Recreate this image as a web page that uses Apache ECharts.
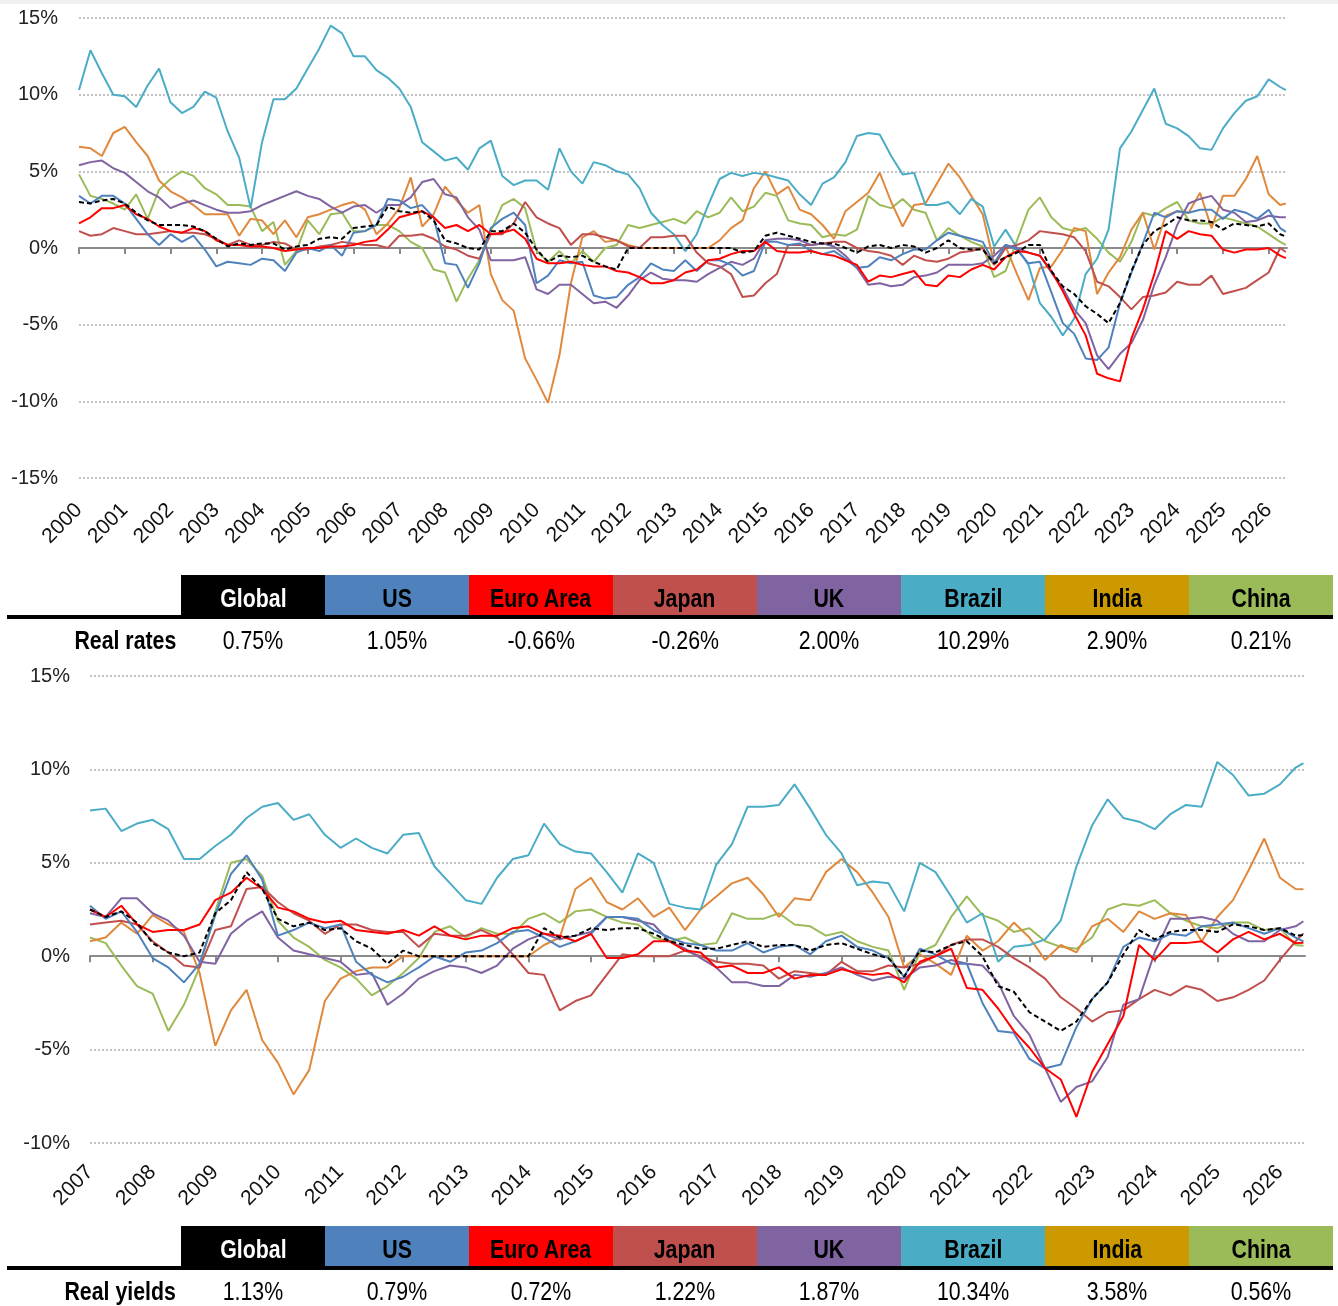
<!DOCTYPE html>
<html><head><meta charset="utf-8">
<script src="https://cdn.jsdelivr.net/npm/echarts@6/dist/echarts.min.js"></script>
<style>
html,body{margin:0;padding:0;background:#fff;}
#wrap{position:relative;width:1338px;height:1306px;overflow:hidden;background:#fff;}
#band{position:absolute;left:0;top:0;width:1338px;height:4px;background:#f0f0f0;z-index:3;}
#chart{position:absolute;left:0;top:0;width:1338px;height:1306px;}
.t{position:absolute;font-family:"Liberation Sans",Arial,sans-serif;font-size:26px;color:#000;z-index:4;white-space:nowrap;}
.t span{display:inline-block;transform:scaleX(0.82);transform-origin:50% 50%;}
.hd{text-align:center;font-weight:bold;height:40px;line-height:47px;}
.rule{position:absolute;background:#000;height:4px;z-index:4;}
.val{text-align:center;}
.rowlab{text-align:right;font-weight:bold;}
.rowlab span{transform-origin:100% 50%;}
</style>
</head><body>
<div id="wrap"><div id="band"></div><div id="chart"></div></div>
<script>
// ---------- table data ----------
const countries = ['Global','US','Euro Area','Japan','UK','Brazil','India','China'];
const rateLatest = ['0.75%','1.05%','-0.66%','-0.26%','2.00%','10.29%','2.90%','0.21%'];
const yieldLatest = ['1.13%','0.79%','0.72%','1.22%','1.87%','10.34%','3.58%','0.56%'];
const rowLabels = ['Real rates','Real yields'];

// ---------- axis ticks ----------
const rateYears = [2000,2001,2002,2003,2004,2005,2006,2007,2008,2009,2010,2011,2012,2013,2014,2015,2016,2017,2018,2019,2020,2021,2022,2023,2024,2025,2026];
const yieldYears = [2007,2008,2009,2010,2011,2012,2013,2014,2015,2016,2017,2018,2019,2020,2021,2022,2023,2024,2025,2026];
const rateTicks = [-15,-10,-5,0,5,10,15];
const yieldTicks = [-10,-5,0,5,10,15];
const lastDate = 2026.375;

// ---------- Real rates (quarterly from 2000 Q1, last = latest) ----------
const rateGlobal = [3.0,2.9,3.1,3.2,2.9,2.3,1.8,1.5,1.5,1.5,1.4,1.1,0.6,0.1,0.3,0.2,0.3,0.3,-0.1,0.1,0.2,0.6,0.7,0.6,1.3,1.4,1.5,2.7,2.4,2.3,2.4,1.8,0.5,
 0.3,0.0,-0.1,1.1,1.1,1.6,1.0,-0.1,-0.9,-0.5,-0.6,-0.5,-0.9,-1.2,-1.4,0.0,0,0,0,0,0,0,0,0,0,-0.3,-0.2,0.8,1.0,0.8,0.6,0.4,0.3,0.3,0.0,-0.3,0.1,0.2,0.0,
 0.2,0.1,-0.3,0.0,0.5,0.0,-0.1,-0.1,-1.0,-0.6,-0.3,0.2,0.2,-1.5,-2.5,-3.0,-3.8,-4.3,-4.9,-3.6,-1.5,0.2,1.1,1.5,2.0,1.8,1.8,1.7,1.2,1.6,1.5,1.4,1.6,0.9,
 0.75];
const rateUS = [3.4,2.9,3.4,3.4,2.9,1.9,0.9,0.2,0.9,0.4,0.8,-0.1,-1.2,-0.9,-1.0,-1.1,-0.7,-0.8,-1.5,-0.3,0.0,-0.2,0.2,-0.5,1.0,1.1,1.5,3.2,3.1,2.6,2.8,2.0,-1.0,
 -1.1,-2.6,-1.0,1.3,1.9,2.3,1.5,-2.3,-1.8,-0.8,-1.0,-0.9,-3.1,-3.3,-3.2,-2.4,-1.9,-1.0,-1.4,-1.5,-0.8,-1.5,-0.8,-0.8,-1.1,-1.8,-1.5,0.4,0.4,0.2,0.3,-0.2,-0.4,-0.2,-0.7,-1.3,-1.2,-0.6,-0.8,
 -0.4,-0.1,-0.1,0.5,1.0,0.8,0.6,0.4,-1.0,0.2,-0.1,-1.0,-0.9,-2.9,-4.9,-5.6,-7.2,-7.3,-6.5,-3.6,-1.6,0.3,2.3,2.0,2.4,2.3,2.5,2.5,1.9,2.5,2.3,1.9,2.5,1.3,
 1.05];
const rateEuro = [1.6,2.0,2.6,2.6,2.8,2.2,1.9,1.4,1.1,1.0,1.3,1.1,0.5,0.2,0.2,0.1,0.1,0.0,-0.2,-0.1,0.0,0.0,0.1,0.1,0.2,0.4,0.5,1.2,2.0,2.2,2.4,2.0,1.3,
 1.5,1.1,1.5,0.9,1.0,1.2,0.6,-0.7,-1.0,-1.0,-0.9,-1.1,-1.2,-1.2,-1.5,-1.6,-1.9,-2.3,-2.3,-2.1,-1.6,-1.4,-0.8,-0.7,-0.4,-0.2,-0.2,0.4,-0.2,-0.3,-0.3,-0.2,-0.4,-0.5,-0.8,-1.1,-2.2,-1.8,-1.9,
 -1.7,-1.5,-2.4,-2.5,-1.8,-1.9,-1.4,-1.1,-1.4,-0.6,-0.2,-0.3,-0.5,-1.5,-2.8,-4.3,-5.7,-8.2,-8.5,-8.7,-5.9,-4.0,-1.7,1.1,0.6,1.1,0.9,0.8,-0.1,-0.3,-0.1,-0.1,0.0,-0.5,
 -0.66];
const rateJapan = [1.1,0.8,0.9,1.3,1.1,0.9,0.9,1.0,1.1,1.0,1.0,0.9,0.6,0.2,0.5,0.2,0.2,0.4,0.3,-0.1,-0.1,0.1,0.2,0.4,0.3,0.2,0.2,0.0,0.8,0.8,0.9,0.6,0.1,
 -0.1,-0.5,-0.7,0.9,0.9,1.6,3.0,2.0,1.6,1.3,0.2,0.9,0.9,0.7,0.5,0.1,0.0,0.7,0.7,0.8,0.8,-0.3,-1.0,-1.2,-1.7,-3.2,-3.1,-2.3,-1.7,0.2,0.2,0.2,0.3,0.4,0.4,0.0,-0.2,-0.3,-0.5,
 -1.1,-0.5,-0.8,-0.9,-0.7,-0.3,-0.2,0.0,-1.1,0.0,0.2,0.5,1.1,1.0,0.9,0.7,-0.2,-2.2,-2.5,-3.2,-4.0,-3.2,-3.1,-2.9,-2.2,-2.4,-2.4,-1.8,-3.0,-2.8,-2.6,-2.1,-1.6,0.0,
 -0.26];
const rateUK = [5.4,5.6,5.7,5.2,4.9,4.3,3.7,3.3,2.6,2.9,3.1,2.8,2.5,2.3,2.3,2.4,2.8,3.1,3.4,3.7,3.4,3.2,2.7,2.3,2.7,2.8,2.3,2.8,2.8,3.3,4.3,4.5,3.5,
 3.3,2.0,1.2,-0.8,-0.8,-0.8,-0.6,-2.7,-3.0,-2.4,-2.4,-3.0,-3.6,-3.5,-3.9,-3.1,-2.1,-1.6,-2.0,-2.1,-2.1,-2.2,-1.7,-1.3,-0.9,-1.1,-0.7,0.5,0.6,0.6,0.5,0.2,0.3,0.1,-0.5,-1.3,-2.4,-2.3,-2.5,
 -2.4,-1.9,-1.8,-1.6,-1.1,-1.1,-1.1,-1.0,-0.5,0.2,0.0,-0.3,-0.5,-1.6,-2.6,-4.0,-4.9,-7.0,-7.9,-6.9,-6.2,-4.7,-2.4,-0.6,1.5,2.9,3.2,3.4,2.5,2.3,1.7,1.8,2.1,2.0,
 2.00];
const rateBrazil = [10.3,12.9,11.4,10.0,9.9,9.2,10.6,11.7,9.5,8.8,9.2,10.2,9.8,7.6,5.9,2.6,6.9,9.7,9.7,10.4,11.7,13.0,14.5,14.0,12.5,12.5,11.6,11.1,10.4,9.2,6.9,6.3,5.7,
 5.9,5.1,6.5,7.0,4.7,4.1,4.4,4.4,3.8,6.5,5.0,4.2,5.6,5.4,5.0,4.8,3.9,2.3,1.5,0.9,-0.2,0.9,2.8,4.5,4.9,4.7,4.9,4.8,4.6,4.4,3.5,2.8,4.2,4.6,5.6,7.3,7.5,7.4,6.0,
 4.8,4.9,2.8,2.8,3.0,2.2,3.2,2.7,0.1,1.2,0.0,-1.1,-3.6,-4.5,-5.7,-4.6,-1.7,-0.7,1.2,6.5,7.6,9.0,10.4,8.1,7.8,7.3,6.5,6.4,7.8,8.8,9.6,9.9,11.0,10.5,
 10.29];
const rateIndia = [6.6,6.5,6.0,7.5,7.9,6.9,6.0,4.4,3.7,3.3,2.8,2.2,2.2,2.2,0.8,1.9,1.8,0.9,1.8,0.7,2.0,2.2,2.5,2.8,3.0,2.5,0.9,1.6,2.6,4.6,1.4,2.2,4.0,
 3.1,2.3,2.8,-1.7,-3.4,-4.1,-7.2,-8.6,-10.1,-7.0,-2.3,0.7,1.1,0.4,0.5,0.2,0,0,0,0,0,0,0,0.5,1.3,1.8,3.9,5.0,3.5,4.0,2.5,2.2,1.5,0.6,2.4,3.0,3.6,4.9,3.0,
 1.4,2.8,2.9,4.2,5.5,4.6,3.4,2.2,-1.0,0.1,-1.7,-3.4,-1.3,-1.2,-0.1,1.3,1.1,-3.0,-1.6,-0.6,1.2,2.3,-0.1,2.1,2.4,2.3,3.6,1.3,3.4,3.4,4.5,6.0,3.5,2.8,
 2.90];
const rateChina = [4.8,3.4,3.2,2.9,2.5,3.5,1.9,3.8,4.5,5.0,4.7,3.9,3.5,2.8,2.8,2.7,1.1,1.7,-1.1,-0.2,1.8,0.9,2.2,2.3,1.1,1.1,1.5,1.5,1.1,0.4,0.0,-1.4,-1.6,
 -3.5,-2.0,-0.8,1.1,2.8,3.2,2.6,-0.2,-0.9,-0.2,-1.0,-0.2,-0.9,0.0,0.2,1.5,1.3,1.5,1.7,1.9,1.6,2.4,2.0,2.3,3.3,2.4,2.7,3.6,3.4,1.8,1.6,1.5,0.7,0.9,0.8,1.2,3.4,2.8,2.6,
 3.2,2.5,2.3,0.5,1.3,0.8,0.4,0.1,-1.9,-1.5,0.5,2.5,3.3,2.0,1.3,1.1,1.3,0.6,-0.3,-0.9,0.4,2.3,2.1,2.6,3.0,1.8,1.6,1.6,2.0,1.8,1.6,1.4,0.9,0.4,
 0.21];

// ---------- Real yields (quarterly from 2007 Q1, last = latest) ----------
const yieldGlobal = [2.5,2.1,2.4,1.8,0.7,0.2,0.0,0.2,2.3,3.0,4.5,3.6,2.0,1.6,1.8,1.4,1.5,0.8,0.4,-0.4,0.3,0.0,0.0,0.0,
 0,0,0,0,0,1.5,1.0,1.1,1.5,1.4,1.5,1.5,1.2,0.8,0.6,0.4,0.4,0.6,0.8,0.5,0.6,0.6,0.3,0.6,0.7,0.4,0.1,-0.1,
 -1.1,0.3,0.2,0.6,0.8,0.0,-1.6,-1.9,-3.0,-3.5,-4.0,-3.5,-2.3,-1.4,0.1,1.4,0.9,1.3,1.4,1.4,1.3,1.7,1.6,1.4,1.5,1.1,
 1.13];
const yieldUS = [2.7,2.0,2.4,1.3,-0.1,-0.6,-1.4,-0.4,2.2,4.4,5.4,4.1,1.1,1.4,1.8,1.5,1.7,-0.3,-1.0,-1.4,-1.1,-0.6,0.0,-0.3,
 0.2,0.3,0.7,1.3,1.4,1.0,0.5,0.8,1.2,2.1,2.1,2.0,1.4,1.0,0.7,0.6,0.3,0.3,0.7,0.2,0.5,0.6,0.1,0.8,1.1,0.5,0.3,-0.1,
 -1.1,0.4,0.1,-0.4,-0.4,-2.5,-4.0,-4.1,-5.5,-6.0,-5.8,-3.8,-2.3,-1.4,0.5,1.0,0.8,1.2,1.1,1.6,1.7,1.8,1.5,1.2,1.5,1.0,
 0.79];
const yieldEuro = [2.5,2.1,2.7,1.7,1.3,1.4,1.4,1.7,3.0,3.4,4.2,3.6,2.6,2.4,2.0,1.8,1.9,1.4,1.3,1.2,1.4,1.1,1.6,1.1,
 0.9,1.1,1.1,1.5,1.6,1.2,1.1,0.8,1.2,-0.1,-0.1,0.1,0.8,0.8,0.3,0.2,-0.6,-0.5,-0.9,-0.9,-0.6,-1.2,-1.0,-1.0,-0.7,-0.9,-1.0,-0.9,
 -1.4,-0.3,0.0,0.4,-1.7,-1.8,-2.8,-4.0,-4.9,-6.0,-6.6,-8.6,-6.2,-4.7,-3.2,0.6,-0.2,0.7,0.7,0.8,0.2,0.9,1.3,0.9,1.2,0.7,
 0.72];
const yieldJapan = [1.7,1.8,1.9,1.7,0.8,0.2,-0.5,-0.6,1.4,1.6,3.6,3.7,2.9,2.3,1.9,1.2,1.7,1.7,1.4,1.3,1.3,0.5,1.2,1.1,
 1.1,1.4,1.0,0.1,-0.9,-1.0,-2.9,-2.4,-2.1,-1.0,0.1,0.0,0.0,0.0,0.3,0.0,-0.3,-0.4,-0.4,-0.5,-1.2,-0.8,-0.9,-1.0,-0.3,-0.8,-0.8,-0.5,
 -0.6,-0.4,0.0,0.6,0.9,0.9,0.5,-0.1,-0.6,-1.2,-2.2,-2.8,-3.5,-3.0,-2.9,-2.3,-1.8,-2.1,-1.6,-1.8,-2.4,-2.2,-1.8,-1.3,-0.2,0.8,
 1.22];
const yieldUK = [2.3,2.1,3.1,3.1,2.3,1.9,1.1,-0.3,-0.4,1.2,1.9,2.4,1.0,0.3,0.1,-0.1,-0.3,-1.0,-0.9,-2.6,-2.0,-1.2,-0.8,-0.5,
 -0.6,-0.9,-0.5,0.4,0.9,1.2,0.9,1.1,1.3,2.1,2.1,1.9,1.7,0.8,0.4,-0.1,-0.6,-1.4,-1.4,-1.6,-1.6,-1.0,-1.1,-0.9,-0.6,-1.0,-1.3,-1.1,
 -1.2,-0.6,-0.5,-0.2,-0.4,-0.5,-1.4,-3.2,-4.2,-6.0,-7.8,-7.0,-6.7,-5.4,-2.6,-2.3,0.2,2.0,2.0,2.1,1.9,1.2,0.8,0.8,1.4,1.6,
 1.87];
const yieldBrazil = [7.8,7.9,6.7,7.1,7.3,6.8,5.2,5.2,5.9,6.5,7.4,8.0,8.2,7.3,7.6,6.5,5.8,6.3,5.8,5.5,6.5,6.6,4.8,3.9,
 3.0,2.8,4.2,5.2,5.4,7.1,6.0,5.6,5.5,4.5,3.4,5.5,5.0,2.8,2.6,2.5,4.9,6.0,8.0,8.0,8.1,9.2,7.9,6.5,5.5,3.8,4.0,3.9,
 2.4,5.0,4.5,3.2,1.8,2.3,-0.3,0.5,0.6,0.9,1.9,4.8,7.0,8.4,7.4,7.2,6.8,7.6,8.1,8.0,10.4,9.7,8.6,8.7,9.2,10.1,
 10.34];
const yieldIndia = [0.8,1.0,1.8,1.2,2.2,1.7,1.3,-0.9,-4.8,-2.9,-1.8,-4.5,-5.7,-7.4,-6.1,-2.4,-1.2,-0.8,-0.6,-0.6,0.0,0.0,0.0,0.0,
 0,0,0,0,0,0.6,1.0,3.6,4.2,2.9,2.5,3.1,2.1,2.6,1.4,2.5,3.2,3.9,4.2,3.3,2.1,3.1,3.0,4.5,5.2,4.5,3.4,2.1,
 -0.6,0.1,-0.4,-1.0,1.1,0.3,0.8,1.8,1.0,-0.2,0.6,0.2,1.6,2.0,1.3,2.4,2.0,2.3,2.2,0.8,2.1,3.0,4.6,6.3,4.2,3.6,
 3.58];
const yieldChina = [1.0,0.7,-0.5,-1.6,-2.0,-4.0,-2.6,-0.6,2.4,5.0,5.2,4.3,1.9,1.0,0.5,-0.2,-0.6,-1.2,-2.1,-1.6,-0.9,-0.1,1.3,1.6,
 1.0,1.5,1.2,1.2,2.0,2.3,1.8,2.4,2.5,2.1,1.8,1.7,1.0,0.8,1.0,0.6,0.7,2.3,2.0,2.0,2.3,1.7,1.6,1.1,1.3,0.8,0.5,0.3,
 -1.8,0.2,0.6,2.1,3.2,2.2,1.9,1.3,1.5,0.8,0.5,0.4,1.0,2.5,2.8,2.7,3.0,2.3,1.9,1.6,1.5,1.8,1.8,1.4,1.5,0.6,
 0.56];

// ---------- styles ----------
const headerBg = {'Global':'#000000','US':'#4F81BD','Euro Area':'#FF0000','Japan':'#C0504D','UK':'#8064A2','Brazil':'#4BACC6','India':'#CC9900','China':'#9BBB59'};
const headerFg = {'Global':'#ffffff'};
const lineColor = {'Global':'#000000','US':'#4F81BD','Euro Area':'#FF0000','Japan':'#C0504D','UK':'#8064A2','Brazil':'#4BACC6','India':'#E0883C','China':'#9BBB59'};

function quarters(start, n){ const a=[]; for(let i=0;i<n;i++) a.push(start + i/4); return a; }
const rateDates = quarters(2000, rateGlobal.length - 1).concat([lastDate]);
const yieldDates = quarters(2007, yieldGlobal.length - 1).concat([lastDate]);

const rateSeries = {'Global':rateGlobal,'US':rateUS,'Euro Area':rateEuro,'Japan':rateJapan,'UK':rateUK,'Brazil':rateBrazil,'India':rateIndia,'China':rateChina};
const yieldSeries = {'Global':yieldGlobal,'US':yieldUS,'Euro Area':yieldEuro,'Japan':yieldJapan,'UK':yieldUK,'Brazil':yieldBrazil,'India':yieldIndia,'China':yieldChina};
const drawOrder = ['China','India','Brazil','Japan','UK','US','Euro Area','Global'];

function mkSeries(map, dates, xi, yi){
  return drawOrder.map(name => ({
    name, type:'line', xAxisIndex:xi, yAxisIndex:yi, showSymbol:false, symbol:'none',
    data: dates.map((d,i)=>[d, map[name][i]]),
    lineStyle:{color:lineColor[name], width:2, type: name==='Global' ? [5,3] : 'solid'},
    itemStyle:{color:lineColor[name]}, z: name==='Global'?5:2, silent:true
  }));
}

const labelFont = {fontFamily:'"Liberation Sans", Arial, sans-serif', fontSize:20, color:'#222'};
const xLabelFont = {fontFamily:'"Liberation Sans", Arial, sans-serif', fontSize:21, color:'#111'};
const gridLine = {show:true, lineStyle:{color:'#b0b0b0', width:1.5, type:[2,2]}};
const zeroLine = {show:true, onZero:true, lineStyle:{color:'#8a8a8a', width:2}};

const chart = echarts.init(document.getElementById('chart'), null, {renderer:'canvas'});
chart.setOption({
  animation:false,
  backgroundColor:'transparent',
  grid:[
    {left:79, top:18, width:1208, height:460},
    {left:79, top:18, width:1208, height:460},
    {left:90, top:676, width:1215, height:467},
    {left:90, top:676, width:1215, height:467}
  ],
  xAxis:[
    {gridIndex:0, type:'value', min:2000, max:2026.4, interval:1, axisLine:zeroLine,
     axisTick:{show:true, length:6, customValues:rateYears, lineStyle:{color:'#8a8a8a', width:2}},
     axisLabel:{show:false}, splitLine:{show:false}},
    {gridIndex:1, type:'value', min:2000, max:2026.4, interval:1, axisLine:{show:false, onZero:false}, axisTick:{show:false},
     axisLabel:Object.assign({show:true, rotate:45, margin:29, customValues:rateYears, formatter:v=>String(Math.round(v))}, xLabelFont),
     splitLine:{show:false}},
    {gridIndex:2, type:'value', min:2007, max:2026.4, interval:1, axisLine:zeroLine,
     axisTick:{show:true, length:6, customValues:yieldYears, lineStyle:{color:'#8a8a8a', width:2}},
     axisLabel:{show:false}, splitLine:{show:false}},
    {gridIndex:3, type:'value', min:2007, max:2026.4, interval:1, axisLine:{show:false, onZero:false}, axisTick:{show:false},
     axisLabel:Object.assign({show:true, rotate:45, margin:26, customValues:yieldYears, formatter:v=>String(Math.round(v))}, xLabelFont),
     splitLine:{show:false}}
  ],
  yAxis:[
    {gridIndex:0, type:'value', min:-15, max:15, interval:5, axisLine:{show:false}, axisTick:{show:false},
     axisLabel:Object.assign({margin:21, customValues:rateTicks, formatter:'{value}%'}, labelFont), splitLine:gridLine},
    {gridIndex:1, type:'value', min:-15, max:15, show:false},
    {gridIndex:2, type:'value', min:-10, max:15, interval:5, axisLine:{show:false}, axisTick:{show:false},
     axisLabel:Object.assign({margin:20, customValues:yieldTicks, formatter:'{value}%'}, labelFont), splitLine:gridLine},
    {gridIndex:3, type:'value', min:-10, max:15, show:false}
  ],
  series: mkSeries(rateSeries, rateDates, 0, 0).concat(mkSeries(yieldSeries, yieldDates, 2, 2))
});

// ---------- tables ----------
const wrap = document.getElementById('wrap');
function addDiv(cls, css, text){
  const d = document.createElement('div'); d.className = cls; Object.assign(d.style, css);
  if (text !== undefined){ const s = document.createElement('span'); s.textContent = text; d.appendChild(s); }
  wrap.appendChild(d); return d;
}
function table(top, label, values){
  const colLeft = 181, colW = 144;
  countries.forEach((c,i)=>{
    addDiv('t hd', {left:(colLeft+i*colW)+'px', top:top+'px', width:colW+'px', background:headerBg[c], color:headerFg[c]||'#000'}, c);
  });
  addDiv('rule', {left:'7px', top:(top+40)+'px', width:'1326px'});
  addDiv('t rowlab', {left:'0px', top:(top+48)+'px', width:'176px', height:'34px', lineHeight:'34px'}, label);
  values.forEach((v,i)=>{
    addDiv('t val', {left:(colLeft+i*colW)+'px', top:(top+48)+'px', width:colW+'px', height:'34px', lineHeight:'34px'}, v);
  });
}
table(575, rowLabels[0], rateLatest);
table(1226, rowLabels[1], yieldLatest);
</script>
</body></html>
